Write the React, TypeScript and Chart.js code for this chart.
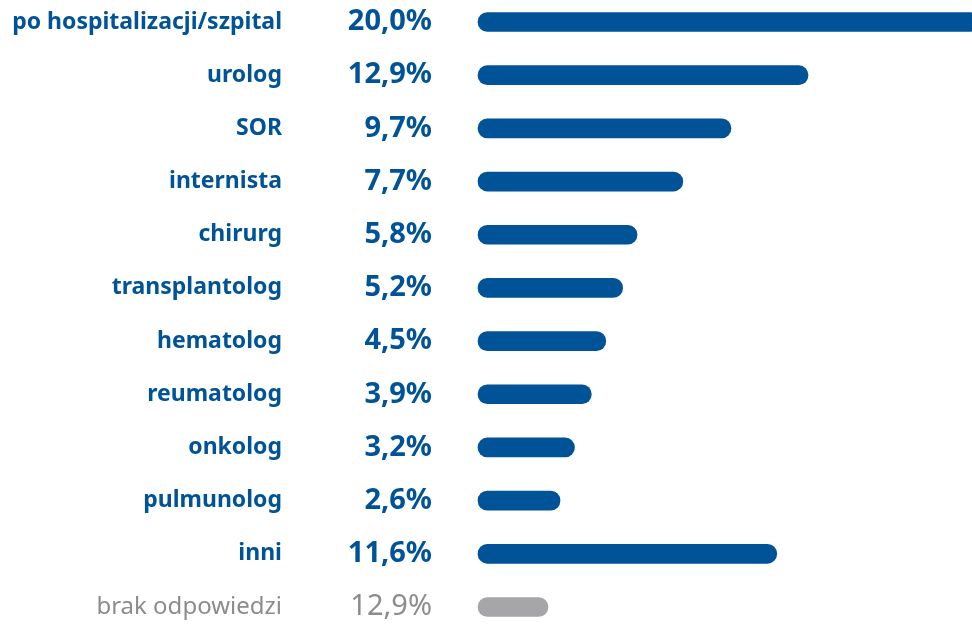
import React, { useEffect, useRef } from "react";
import { Chart, registerables } from "chart.js";

Chart.register(...registerables);

const categories = [
  "po hospitalizacji/szpital",
  "urolog",
  "SOR",
  "internista",
  "chirurg",
  "transplantolog",
  "hematolog",
  "reumatolog",
  "onkolog",
  "pulmunolog",
  "inni",
  "brak odpowiedzi",
];
const percentLabels = [
  "20,0%", "12,9%", "9,7%", "7,7%", "5,8%", "5,2%", "4,5%", "3,9%", "3,2%", "2,6%", "11,6%", "12,9%",
];
// bar lengths as drawn in the picture (the grey "brak odpowiedzi" bar is drawn short)
const barValues = [20.0, 12.9, 9.7, 7.7, 5.8, 5.2, 4.5, 3.9, 3.2, 2.6, 11.6, 2.1];

const BLUE = "#005397";
const GREY_BAR = "#a6a6a9";
const GREY_TEXT = "#8c8c8c";
const FONT = "'Noto Sans', sans-serif";
const BASE = -0.806;
const X_MAX = 19.71;

export default function App() {
  const ref = useRef<HTMLCanvasElement | null>(null);
  useEffect(() => {
    if (!ref.current) return;
    const last = categories.length - 1;
    const noVPad = (s: any) => {
      s.paddingTop = 0;
      s.paddingBottom = 0;
    };
    const chart = new Chart(ref.current, {
      type: "bar",
      data: {
        labels: categories,
        datasets: [
          {
            data: barValues,
            backgroundColor: barValues.map((_, i) => (i === last ? GREY_BAR : BLUE)),
            borderRadius: 10,
            borderSkipped: false,
            barThickness: 19,
            base: BASE,
            clip: false,
          } as any,
        ],
      },
      options: {
        indexAxis: "y",
        responsive: false,
        animation: false,
        layout: { padding: { top: 22, bottom: 21, left: 0, right: 0 } },
        plugins: { legend: { display: false }, tooltip: { enabled: false } },
        scales: {
          x: { type: "linear", min: BASE, max: X_MAX, display: false },
          y: {
            type: "category",
            position: "left",
            weight: 1,
            offset: false,
            grid: { display: false, drawTicks: false },
            border: { display: false },
            ticks: {
              padding: 18,
              color: (ctx: any) => (ctx.index === last ? GREY_TEXT : BLUE),
              font: (ctx: any) => ({
                family: FONT,
                size: ctx.index === last ? 24 : 23,
                weight: ctx.index === last ? "normal" : "bold",
              }),
            },
            afterFit: (s: any) => {
              s.width = 300;
              noVPad(s);
            },
          },
          y2: {
            type: "category",
            labels: percentLabels,
            position: "left",
            weight: 0,
            offset: false,
            grid: { display: false, drawTicks: false },
            border: { display: false },
            ticks: {
              padding: 46,
              color: (ctx: any) => (ctx.index === last ? GREY_TEXT : BLUE),
              font: (ctx: any) => ({
                family: FONT,
                size: 29,
                weight: ctx.index === last ? "normal" : "bold",
              }),
            },
            afterFit: (s: any) => {
              s.width = 178;
              noVPad(s);
            },
          },
        } as any,
      },
    });
    return () => chart.destroy();
  }, []);
  return (
    <canvas
      ref={ref}
      width={972}
      height={628}
      style={{ position: "absolute", left: 0, top: 0, width: 972, height: 628 }}
    />
  );
}
